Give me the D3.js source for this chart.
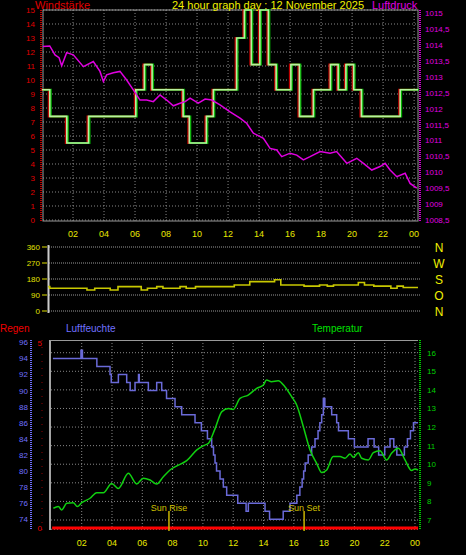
<!DOCTYPE html>
<html><head><meta charset="utf-8">
<script src="https://cdn.jsdelivr.net/npm/d3@7"></script>
<style>body{margin:0;background:#000}svg{display:block;font-family:"Liberation Sans",Arial,sans-serif}</style>
</head><body><svg id="c" width="466" height="555"></svg>
<script>
const hourTicks=[2,4,6,8,10,12,14,16,18,20,22,24];
const windSteps=[[0,9.3],[0.5,7.4],[1.6,5.5],[3.0,7.4],[6.05,9.3],[6.6,11.1],[7.1,9.3],[9.1,7.4],[9.5,5.5],[10.6,7.4],[11.05,9.3],[12.55,13],[13.05,15],[13.5,11.1],[14.05,15],[14.6,11.1],[15.1,9.3],[16.05,11.1],[16.6,7.4],[17.5,9.3],[18.6,11.1],[19.1,9.3],[19.6,11.1],[20.1,9.3],[20.6,7.4],[23.1,9.3],[24.25,9.3]];
const pressure=[[0.05,1013.95],[0.5,1013.97],[0.84,1013.69],[1.1,1013.6],[1.27,1013.35],[1.59,1013.76],[2.02,1013.69],[2.67,1013.32],[3.31,1013.48],[3.74,1013.17],[3.96,1012.85],[4.17,1013.06],[4.6,1013.13],[5.03,1013.17],[5.46,1012.9],[5.89,1012.59],[6.32,1012.27],[6.75,1012.27],[7.18,1012.22],[7.61,1012.43],[8.04,1012.27],[8.47,1012.09],[8.9,1012.17],[9.23,1012.22],[9.55,1012.33],[10.08,1012.17],[10.52,1012.3],[10.95,1012.27],[11.48,1012.12],[12.13,1011.9],[12.77,1011.7],[13.2,1011.54],[13.63,1011.23],[14.28,1011.07],[14.71,1010.75],[15.14,1010.7],[15.46,1010.49],[16.0,1010.6],[16.43,1010.54],[16.86,1010.39],[17.29,1010.49],[17.94,1010.65],[18.58,1010.6],[19.0,1010.65],[19.66,1010.28],[20.3,1010.44],[20.73,1010.28],[21.27,1010.07],[21.8,1010.18],[22.13,1010.28],[22.45,1010.07],[22.88,1009.86],[23.42,1009.97],[23.74,1009.65],[24.17,1009.5]];
const dirSteps=[[0,137],[0.5,128],[2.9,118],[3.4,128],[4.4,118],[4.9,137],[6.4,118],[6.8,128],[7.4,137],[7.8,128],[8.9,137],[9.3,128],[9.9,137],[12.4,146],[13.4,165],[15.0,176],[15.4,146],[16.9,140],[17.9,146],[18.4,140],[18.8,146],[20.4,160],[20.8,146],[21.4,140],[22.5,128],[22.9,140],[23.3,132],[24.25,132]];
const humSteps=[[0.1,94],[1.95,95],[2.05,94],[3.0,93],[3.87,92],[3.95,91],[4.42,92],[4.97,91],[5.2,90],[5.52,91],[5.75,92],[5.8,91],[6.4,90],[6.95,91],[7.28,90],[7.6,89],[8.16,88],[8.6,87],[9.48,86],[9.9,85],[10.3,84],[10.58,83],[10.7,82],[10.8,81],[10.9,80],[11.13,79],[11.35,78],[11.57,77],[12.3,76],[12.85,75],[13.0,76],[14.1,75],[14.4,74],[15.3,75],[15.75,76],[16.2,77],[16.4,78],[16.55,79],[16.65,80],[16.75,81],[16.95,82],[17.18,83],[17.4,84],[17.6,85],[17.72,86],[17.84,87],[17.95,89],[18.05,88],[18.5,87],[18.83,86],[18.95,85],[19.6,84],[20.0,83],[20.9,84],[21.3,83],[21.6,82],[22.0,83],[22.35,84],[22.6,83],[22.8,82],[23.3,83],[23.5,84],[23.7,85],[23.9,86],[24.2,86]];
const temperature=[[0.13,7.63],[0.46,7.72],[0.68,7.54],[1.01,7.9],[1.45,7.93],[1.71,7.72],[2.0,7.93],[2.55,8.17],[2.99,8.47],[3.43,8.47],[3.98,8.97],[4.42,8.7],[5.08,9.51],[5.63,8.94],[6.07,9.25],[6.51,9.15],[6.95,8.94],[7.39,9.33],[7.83,9.69],[8.28,9.91],[8.93,10.19],[9.6,10.77],[10.04,11.0],[10.37,11.13],[10.81,11.93],[11.25,12.83],[11.69,13.0],[12.0,12.95],[12.45,13.54],[12.99,13.72],[13.55,14.08],[13.99,14.26],[14.2,14.53],[14.53,14.44],[14.97,14.49],[15.41,14.17],[15.86,13.63],[16.19,13.19],[16.63,12.02],[17.07,10.77],[17.51,10.05],[17.84,9.55],[18.17,9.69],[18.6,10.41],[19.05,10.41],[19.38,10.32],[19.71,10.55],[19.93,10.37],[20.26,10.62],[20.48,10.32],[20.92,10.23],[21.25,10.62],[21.69,10.73],[22.13,10.23],[22.45,10.59],[22.9,10.86],[23.34,10.23],[23.78,9.66],[24.0,9.75],[24.2,9.69]];
const rain=[[0.05,0],[24.2,0]];
const sunEvents=[["Sun Rise",7.76],["Sun Set",16.68]];
const windTicks=d3.range(0,16), pressTicks=d3.range(1008.5,1015.01,0.5);
const dirTicks=[0,90,180,270,360], dirLetters=["N","O","S","W","N"];
const humTicks=d3.range(74,97,2), tempTicks=d3.range(7,17), rainTicks=[0,5];

const svg=d3.select("#c");
const fmtH=h=>h===24?"00":String(h).padStart(2,"0");
const fmtDe=d=>String(d).replace(".",",");
function grid(g,x,y,ticks,x0,x1,y0,y1){
  g.selectAll(null).data(hourTicks).join("line").attr("x1",d=>x(d)).attr("x2",d=>x(d)).attr("y1",y0).attr("y2",y1).attr("stroke","#888").attr("stroke-dasharray","1,2");
  g.selectAll(null).data(ticks).join("line").attr("x1",x0).attr("x2",x1).attr("y1",d=>y(d)).attr("y2",d=>y(d)).attr("stroke","#888").attr("stroke-dasharray","1,2");
}
function xLabels(x,yy){
  svg.append("g").selectAll("text").data(hourTicks).join("text").attr("x",d=>x(d)).attr("y",yy).attr("text-anchor","middle").attr("fill","#e8e800").attr("font-size",9).text(fmtH);
}
// ---------- top panel
{
  const x=d3.scaleLinear([0,24.25],[42,418]);
  const yW=d3.scaleLinear([0,15],[220,10]);
  const yP=d3.scaleLinear([1008.5,1015.1],[220,10]);
  const g=svg.append("g");
  grid(g,x,yW,windTicks,43,418,10,221);
  g.append("rect").attr("x",43).attr("y",10).attr("width",375).attr("height",211).attr("fill","none").attr("stroke","#999");
  g.append("line").attr("x1",41).attr("x2",41).attr("y1",10).attr("y2",221).attr("stroke","#c00000").attr("stroke-width",2).attr("stroke-dasharray","1,1");
  g.append("line").attr("x1",420).attr("x2",420).attr("y1",10).attr("y2",221).attr("stroke","#d000d0").attr("stroke-width",2).attr("stroke-dasharray","1,1");
  g.selectAll(null).data(windTicks).join("text").attr("x",35).attr("y",d=>yW(d)+3).attr("text-anchor","end").attr("fill","#e00000").attr("font-size",8).text(d=>d);
  g.selectAll(null).data(pressTicks).join("text").attr("x",425).attr("y",d=>yP(d)+3).attr("fill","#e000e0").attr("font-size",8).text(fmtDe);
  const ws=d3.line().x(d=>x(d[0])).y(d=>yW(d[1])).curve(d3.curveStepAfter);
  g.append("path").attr("d",ws(windSteps)).attr("fill","none").attr("stroke","#c00000").attr("stroke-width",2).attr("transform","translate(-1,0)");
  g.append("path").attr("d",ws(windSteps)).attr("fill","none").attr("stroke","#00b000").attr("stroke-width",2).attr("transform","translate(1,0)");
  g.append("path").attr("d",ws(windSteps)).attr("fill","none").attr("stroke","#b8f0a0").attr("stroke-width",1.6);
  g.append("path").attr("d",d3.line().x(d=>x(d[0])).y(d=>yP(d[1]))(pressure)).attr("fill","none").attr("stroke","#e000e0").attr("stroke-width",1.5);
  svg.append("text").attr("x",35).attr("y",9).attr("fill","#e00000").attr("font-size",11).text("Windstärke");
  svg.append("text").attr("x",172).attr("y",9).attr("fill","#f0f000").attr("font-size",11).text("24 hour graph day : 12 November 2025");
  svg.append("text").attr("x",372).attr("y",9).attr("fill","#e000e0").attr("font-size",11).text("Luftdruck");
  xLabels(x,237);
}
// ---------- direction panel
{
  const x=d3.scaleLinear([0,24.25],[42,418]);
  const y=d3.scaleLinear([0,360],[311,247]);
  const g=svg.append("g");
  g.selectAll(null).data(dirTicks).join("line").attr("x1",49).attr("x2",421).attr("y1",d=>y(d)).attr("y2",d=>y(d)).attr("stroke","#999").attr("stroke-dasharray","1,1");
  g.append("line").attr("x1",48.5).attr("x2",48.5).attr("y1",245).attr("y2",313).attr("stroke","#ccc").attr("stroke-width",2);
  g.selectAll(null).data(dirTicks).join("text").attr("x",40).attr("y",d=>y(d)+3).attr("text-anchor","end").attr("fill","#e0e000").attr("font-size",8).text(d=>d);
  g.selectAll(null).data(dirTicks).join("line").attr("x1",42).attr("x2",47).attr("y1",d=>y(d)).attr("y2",d=>y(d)).attr("stroke","#e0e000");
  g.selectAll(null).data(dirTicks).join("text").attr("x",439).attr("y",(d,i)=>y(d)+5).attr("text-anchor","middle").attr("fill","#f0f000").attr("font-size",12).text((d,i)=>dirLetters[i]);
  g.append("path").attr("d",d3.line().x(d=>x(d[0])).y(d=>y(d[1])).curve(d3.curveStepAfter)(dirSteps.map(d=>[Math.max(d[0],0.4),d[1]]))).attr("fill","none").attr("stroke","#c8c800").attr("stroke-width",1.6);
}
// ---------- bottom panel
{
  const x=d3.scaleLinear([0,24],[51.4,415]);
  const yH=d3.scaleLinear([74,96],[519.3,342.3]);
  const yT=d3.scaleLinear([7,16],[520,352.7]);
  const yR=d3.scaleLinear([0,5],[528,342.7]);
  const g=svg.append("g");
  grid(g,x,yT,tempTicks.concat([6.5]),51,418,340,528);
  g.append("line").attr("x1",50).attr("x2",50).attr("y1",340).attr("y2",530).attr("stroke","#ddd").attr("stroke-width",1.5);
  g.append("line").attr("x1",50).attr("x2",418).attr("y1",340.5).attr("y2",340.5).attr("stroke","#999");
  g.append("line").attr("x1",31).attr("x2",31).attr("y1",340).attr("y2",530).attr("stroke","#7070ff").attr("stroke-width",2).attr("stroke-dasharray","1,1");
  g.append("line").attr("x1",420).attr("x2",420).attr("y1",340).attr("y2",530).attr("stroke","#00d000").attr("stroke-width",2).attr("stroke-dasharray","1,1");
  g.append("line").attr("x1",42).attr("x2",42).attr("y1",340).attr("y2",530).attr("stroke","#900000").attr("stroke-width",1).attr("stroke-dasharray","1,6");
  g.selectAll(null).data(humTicks).join("text").attr("x",28).attr("y",d=>yH(d)+3).attr("text-anchor","end").attr("fill","#7070ff").attr("font-size",8).text(d=>d);
  g.selectAll(null).data(rainTicks).join("text").attr("x",42).attr("y",d=>yR(d)+3).attr("text-anchor","end").attr("fill","#f00000").attr("font-size",8).text(d=>d);
  g.selectAll(null).data(tempTicks).join("text").attr("x",427).attr("y",d=>yT(d)+3).attr("fill","#00d000").attr("font-size",8).text(d=>d);
  g.append("path").attr("d",d3.line().x(d=>x(d[0])).y(d=>yR(d[1]))(rain)).attr("stroke","#ff0000").attr("stroke-width",3);
  g.append("path").attr("d",d3.line().x(d=>x(d[0])).y(d=>yH(d[1])).curve(d3.curveStepAfter)(humSteps)).attr("fill","none").attr("stroke","#6a6ad8").attr("stroke-width",1.5);
  g.append("path").attr("d",d3.line().x(d=>x(d[0])).y(d=>yT(d[1])).curve(d3.curveMonotoneX)(temperature)).attr("fill","none").attr("stroke","#10d010").attr("stroke-width",1.5);
  sunEvents.forEach(([t,h])=>{
    g.append("line").attr("x1",x(h)).attr("x2",x(h)).attr("y1",511).attr("y2",531).attr("stroke","#c8b400").attr("stroke-width",1.5);
    g.append("text").attr("x",x(h)).attr("y",511).attr("text-anchor","middle").attr("fill","#d0c000").attr("font-size",9).text(t);
  });
  svg.append("text").attr("x",0).attr("y",332).attr("fill","#f00000").attr("font-size",10).text("Regen");
  svg.append("text").attr("x",66).attr("y",332).attr("fill","#7070ff").attr("font-size",10).text("Luftfeuchte");
  svg.append("text").attr("x",312).attr("y",332).attr("fill","#00e000").attr("font-size",10).text("Temperatur");
  xLabels(x,546);
}
</script></body></html>
